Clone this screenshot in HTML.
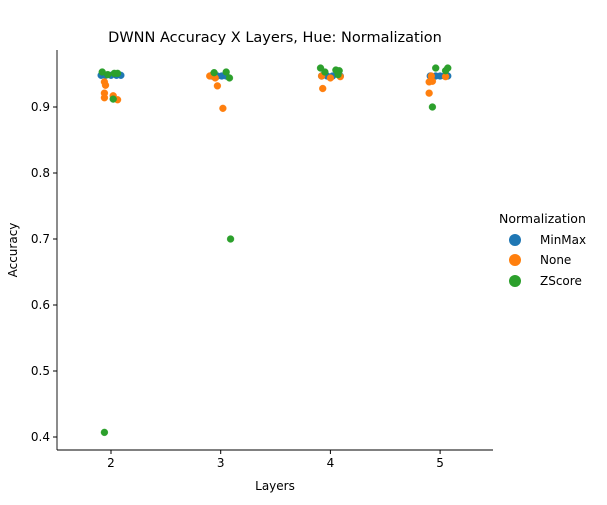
<!DOCTYPE html>
<html><head><meta charset="utf-8"><style>
body{margin:0;background:#fff;font-family:"Liberation Sans","DejaVu Sans",sans-serif}
svg text{font-family:"DejaVu Sans","Liberation Sans",sans-serif}
</style></head><body>
<svg id="c" width="607" height="500">
<text x="275" y="42" font-size="14.5" text-anchor="middle">DWNN Accuracy X Layers, Hue: Normalization</text>
<g id="axes"></g><g id="pts"></g>
<text x="275" y="490" font-size="12" text-anchor="middle">Layers</text>
<text x="17" y="250" font-size="12" text-anchor="middle" transform="rotate(-90 17 250)">Accuracy</text>
<g>
<text x="499" y="223" font-size="12.5">Normalization</text>
<circle cx="515" cy="240" r="6" fill="#1f77b4"/><text x="540" y="244" font-size="12">MinMax</text>
<circle cx="515" cy="260" r="6" fill="#ff7f0e"/><text x="540" y="264" font-size="12">None</text>
<circle cx="515" cy="281" r="6" fill="#2ca02c"/><text x="540" y="285" font-size="12">ZScore</text>
</g>
</svg>
<script>
const categories=["2","3","4","5"];
const yTicks=[0.4,0.5,0.6,0.7,0.8,0.9];
const yTickLabels=["0.4","0.5","0.6","0.7","0.8","0.9"];
// [categoryIndex, jitter (category units), accuracy]
const minmax=[[0,-0.09,0.948],[0,-0.05,0.948],[0,0,0.948],[0,0.05,0.948],[0,0.09,0.948],
[1,-0.08,0.947],[1,-0.03,0.947],[1,0.01,0.947],[1,0.05,0.947],
[2,-0.08,0.947],[2,-0.03,0.947],[2,0.02,0.947],[2,0.09,0.947],
[3,-0.09,0.947],[3,-0.04,0.947],[3,0,0.947],[3,0.04,0.947],[3,0.07,0.947]];
const none=[[0,-0.06,0.938],[0,-0.05,0.933],[0,-0.06,0.921],[0,-0.06,0.914],[0,0.02,0.917],[0,0.06,0.911],
[1,-0.1,0.947],[1,-0.08,0.948],[1,-0.05,0.944],[1,-0.03,0.932],[1,0.02,0.898],
[2,-0.08,0.947],[2,0,0.944],[2,0.09,0.946],[2,-0.07,0.928],
[3,-0.08,0.947],[3,-0.1,0.938],[3,-0.07,0.939],[3,-0.1,0.921],[3,0.05,0.946]];
const zscore=[[0,-0.08,0.953],[0,-0.03,0.949],[0,0.03,0.951],[0,0.06,0.951],[0,0.02,0.912],
[1,-0.06,0.952],[1,0.05,0.953],[1,0.08,0.944],[1,0.09,0.700],[0,-0.06,0.407],
[2,-0.09,0.959],[2,-0.05,0.953],[2,0.05,0.956],[2,0.08,0.955],[2,0.07,0.949],
[3,-0.04,0.959],[3,0.07,0.959],[3,0.05,0.955],[3,-0.07,0.900]];
const NS="http://www.w3.org/2000/svg";
const L=57,R=493,T=50,B=450;
const xs=i=>111+i*109.7;
const ys=v=>107+(0.9-v)*660;
const ax=document.getElementById('axes'),pg=document.getElementById('pts');
function mk(tag,at,p){const e=document.createElementNS(NS,tag);for(const k in at)e.setAttribute(k,at[k]);p.appendChild(e);return e;}
let e=mk('line',{x1:L,y1:T,x2:L,y2:B,stroke:'#000','stroke-width':0.9},ax);


e=mk('line',{x1:L,y1:B,x2:R,y2:B,stroke:'#000','stroke-width':0.9},ax);


yTicks.forEach((v,i)=>{
 let t=mk('line',{x1:L-4,x2:L,y1:ys(v),y2:ys(v),stroke:'#000'},ax);
 
 
 let s=mk('text',{x:L-7,y:ys(v)+4,'font-size':12,'text-anchor':'end'},ax);s.textContent=yTickLabels[i];
 
 
});
categories.forEach((c,i)=>{
 let t=mk('line',{x1:xs(i),x2:xs(i),y1:B,y2:B+4,stroke:'#000'},ax);
 
 
 let s=mk('text',{x:xs(i),y:B+17,'font-size':12,'text-anchor':'middle'},ax);s.textContent=c;
 
 
});
function draw(arr,col,name){arr.forEach(p=>{
 const d=mk('circle',{cx:xs(p[0]+p[1]),cy:ys(p[2]),r:3.5,fill:col,stroke:col,'stroke-width':0.3},pg);
 
 
});}
draw(minmax,'#1f77b4','point-minmax');
draw(none,'#ff7f0e','point-none');
draw(zscore,'#2ca02c','point-zscore');
</script>
</body></html>
